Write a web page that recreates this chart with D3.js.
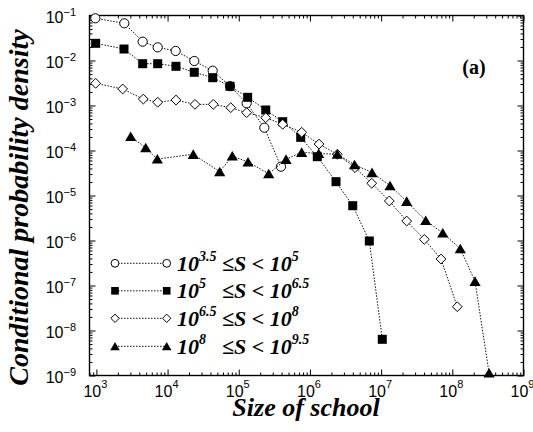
<!DOCTYPE html>
<html><head><meta charset="utf-8">
<script src="https://cdn.jsdelivr.net/npm/d3@7"></script>
<style>body{margin:0;background:#fff}</style>
</head><body>
<svg id="c" width="533" height="432"></svg>
<script>
// ---- data ----
const circX = [966, 2466, 4467, 7261, 13000, 23710, 43050, 75340, 129100, 228600, 391700];
const circY = [0.0867, 0.0671, 0.0262, 0.0196, 0.0163, 0.00975, 0.00593, 0.00269, 0.00112, 0.000321, 4.37e-5];

const sqX = [977, 2443, 4467, 7261, 13120, 23710, 43050, 75340, 133400, 239300, 414000, 741300, 1268000, 2323000, 3990000, 6823000, 10380000];
const sqY = [0.0241, 0.0180, 0.00849, 0.00849, 0.00743, 0.00547, 0.00415, 0.00267, 0.00152, 0.000794, 0.000437, 0.000196, 7.28e-5, 2.03e-5, 5.93e-6, 9.75e-7, 6.37e-9];

const diaX = [977, 2339, 4560, 7261, 13120, 24270, 43850, 77090, 129100, 239300, 414000, 765600, 1340000, 2421000, 4295000, 7379000, 13030000, 22860000, 40460000, 69340000, 117500000];
const diaY = [0.00311, 0.00233, 0.00139, 0.00118, 0.00132, 0.00106, 0.00106, 0.000895, 0.000692, 0.000536, 0.000382, 0.000254, 0.000139, 8.24e-5, 4.15e-5, 1.87e-5, 7.55e-6, 2.71e-6, 1.06e-6, 3.88e-7, 3.38e-8];

const triX = [3034, 4932, 7178, 22960, 53950, 81100, 134900, 263600, 461300, 765600, 1327000, 2421000, 4227000, 7447000, 13340000, 22860000, 42270000, 73450000, 129400000, 208400000, 328100000];
const triY = [2.05e-4, 1.15e-4, 6.47e-5, 8.24e-5, 3.38e-5, 7.55e-5, 5.55e-5, 3.05e-5, 6.37e-5, 9.12e-5, 8.57e-5, 8.28e-5, 4.83e-5, 3.24e-5, 1.65e-5, 7.43e-6, 2.78e-6, 1.47e-6, 6.58e-7, 1.24e-7, 1.14e-9];

const legendLow = ["3.5", "5", "6.5", "8"];
const legendHigh = ["5", "6.5", "8", "9.5"];
const xTickExps = [3, 4, 5, 6, 7, 8, 9];
const yTickExps = [-1, -2, -3, -4, -5, -6, -7, -8, -9];
const xTitle = "Size of school";
const yTitle = "Conditional probability density";
const panelLabel = "(a)";

// ---- layout ----
const L = 89.5, R = 523.5, T = 15.5, B = 375.5;
const svg = d3.select("#c");
const x = d3.scaleLog().domain([800, 1e9]).range([L, R]);
const y = d3.scaleLog().domain([1e-9, 1e-1]).range([B, T]);

// minor tick values
function minors(lo, hi) {
  const out = [];
  for (let e = Math.floor(Math.log10(lo)); e <= Math.ceil(Math.log10(hi)); e++)
    for (let m = 2; m <= 9; m++) { const v = m * Math.pow(10, e); if (v >= lo && v <= hi) out.push(v); }
  return out;
}
const xMajor = xTickExps.map(e => Math.pow(10, e));
const yMajor = yTickExps.map(e => Math.pow(10, e));
const xMinor = minors(800, 1e9);
const yMinor = minors(1e-9, 1e-1);

function addAxis(gen, tx, ty, vals, size) {
  const g = svg.append("g").attr("transform", `translate(${tx},${ty})`)
    .call(gen.tickValues(vals).tickSize(size).tickSizeOuter(0).tickFormat(""));
  g.select(".domain").remove();
  g.selectAll("line").attr("stroke", "#000").attr("stroke-width", 1);
}
[[xMajor, -6], [xMinor, -3]].forEach(([v, s]) => {
  addAxis(d3.axisBottom(x), 0, B, v, s);
  addAxis(d3.axisTop(x), 0, T, v, s);
});
[[yMajor, -6], [yMinor, -3]].forEach(([v, s]) => {
  addAxis(d3.axisLeft(y), L, 0, v, s);
  addAxis(d3.axisRight(y), R, 0, v, s);
});

svg.append("rect").attr("x", L).attr("y", T).attr("width", R - L).attr("height", B - T)
  .attr("fill", "none").attr("stroke", "#000").attr("stroke-width", 1.4);

// tick labels
const tickFont = "'Liberation Sans', Arial, sans-serif";
xTickExps.forEach(e => {
  const t = svg.append("text").attr("x", x(Math.pow(10, e)) - 1).attr("y", 396.5)
    .attr("text-anchor", "middle").attr("font-family", tickFont).attr("font-size", 16).attr("fill", "#000");
  t.append("tspan").text("10");
  t.append("tspan").attr("dy", -8.5).attr("font-size", 11).text(String(e));
});
yTickExps.forEach(e => {
  const t = svg.append("text").attr("x", 76).attr("y", y(Math.pow(10, e)) + 7.5)
    .attr("text-anchor", "end").attr("font-family", tickFont).attr("font-size", 16).attr("fill", "#000");
  t.append("tspan").text("10");
  t.append("tspan").attr("dy", -7.5).attr("font-size", 11).text("\u2212" + Math.abs(e));
});

// titles
const serif = "'Liberation Serif', 'Times New Roman', serif";
svg.append("text").attr("x", 306).attr("y", 416).attr("text-anchor", "middle")
  .attr("font-family", serif).attr("font-weight", "bold").attr("font-style", "italic")
  .attr("font-size", 26).text(xTitle);
svg.append("text").attr("transform", "translate(27.5,207.5) rotate(-90)").attr("text-anchor", "middle")
  .attr("font-family", serif).attr("font-weight", "bold").attr("font-style", "italic")
  .attr("font-size", 28).text(yTitle);
svg.append("text").attr("x", 474).attr("y", 74).attr("text-anchor", "middle")
  .attr("font-family", serif).attr("font-weight", "bold").attr("font-size", 20).text(panelLabel);

// markers
const markers = {
  circle: (g, s) => g.append("circle").attr("r", 4.6 * s).attr("fill", "#fff").attr("stroke", "#000").attr("stroke-width", 1),
  square: (g, s) => g.append("rect").attr("x", -4.5 * s).attr("y", -4.5 * s).attr("width", 9 * s).attr("height", 9 * s).attr("fill", "#000"),
  diamond: (g, s) => g.append("path").attr("d", `M0,${-4.9 * s}L${4.9 * s},0L0,${4.9 * s}L${-4.9 * s},0Z`).attr("fill", "#fff").attr("stroke", "#000").attr("stroke-width", 1),
  triangle: (g, s) => g.append("path").attr("d", `M0,${-5 * s}L${5.6 * s},${4.6 * s}L${-5.6 * s},${4.6 * s}Z`).attr("fill", "#000")
};

const series = [
  { xs: circX, ys: circY, m: "circle" },
  { xs: sqX, ys: sqY, m: "square" },
  { xs: diaX, ys: diaY, m: "diamond" },
  { xs: triX, ys: triY, m: "triangle" }
];
const line = d3.line().x(d => x(d[0])).y(d => y(d[1]));
series.forEach(s => {
  const pts = s.xs.map((v, i) => [v, s.ys[i]]);
  svg.append("path").attr("d", line(pts)).attr("fill", "none").attr("stroke", "#111")
    .attr("stroke-width", 1).attr("stroke-dasharray", "1.5,1.5");
  pts.forEach(p => {
    const g = svg.append("g").attr("transform", `translate(${x(p[0])},${y(p[1])})`);
    markers[s.m](g, 1);
  });
});

// legend
const rowsY = [263.3, 290.8, 318.3, 346.3];
series.forEach((s, i) => {
  const yy = rowsY[i];
  svg.append("line").attr("x1", 115).attr("x2", 166.7).attr("y1", yy).attr("y2", yy)
    .attr("stroke", "#111").attr("stroke-width", 1).attr("stroke-dasharray", "1.5,1.5");
  [115, 166.7].forEach(xx => {
    const g = svg.append("g").attr("transform", `translate(${xx},${yy})`);
    markers[s.m](g, 0.85);
  });
  const t1 = svg.append("text").attr("x", 177).attr("y", yy + 7.5)
    .attr("font-family", serif).attr("font-weight", "bold").attr("font-style", "italic").attr("font-size", 22);
  t1.append("tspan").text("10");
  t1.append("tspan").attr("dy", -10).attr("font-size", 14).text(legendLow[i]);
  const t2 = svg.append("text").attr("x", 222).attr("y", yy + 7.5)
    .attr("font-family", serif).attr("font-weight", "bold").attr("font-style", "italic").attr("font-size", 22);
  t2.append("tspan").text("\u2264S < 10");
  t2.append("tspan").attr("dy", -10).attr("font-size", 14).text(legendHigh[i]);
});
</script>
</body></html>
